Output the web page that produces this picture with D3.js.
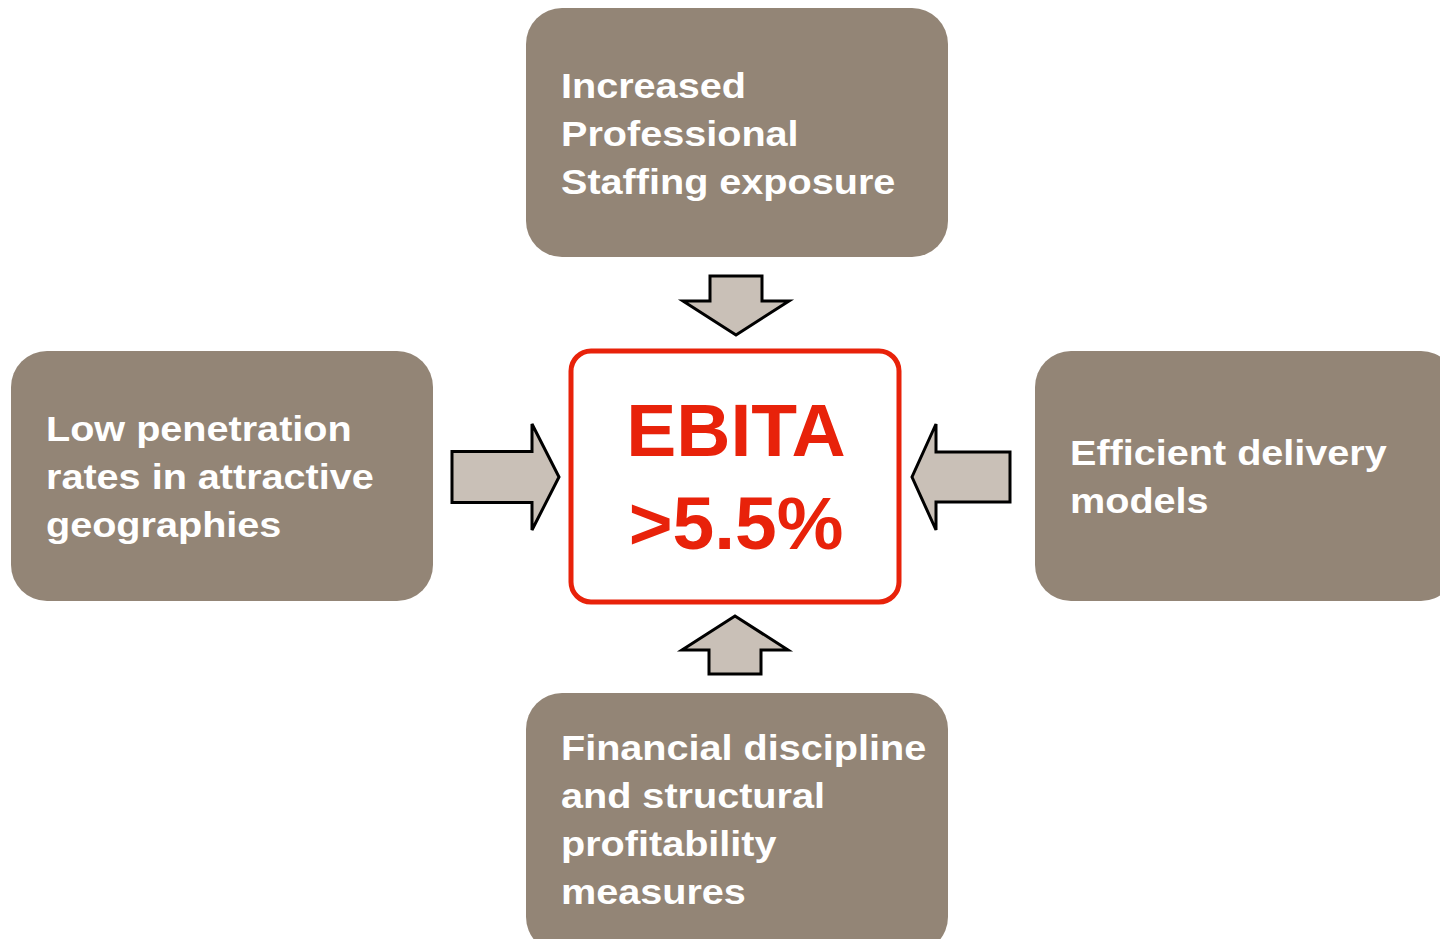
<!DOCTYPE html>
<html>
<head>
<meta charset="utf-8">
<script src="https://cdn.jsdelivr.net/npm/d3@7"></script>
<style>
  body { margin: 0; background: #fff; }
  svg { display: block; }
  text { font-family: "Liberation Sans", Arial, sans-serif; font-weight: bold; }
</style>
</head>
<body>
<div id="chart"></div>
<script>
// text content
var driverNames = ['top', 'left', 'right', 'bottom'];
var driverLines = [
  ['Increased', 'Professional', 'Staffing exposure'],
  ['Low penetration', 'rates in attractive', 'geographies'],
  ['Efficient delivery', 'models'],
  ['Financial discipline', 'and structural', 'profitability', 'measures']
];
var targetLines = ['EBITA', '>5.5%'];

var W = 1440, H = 939;
var BOX_FILL = '#938576', ARROW_FILL = '#c9c0b7', RED = '#e8220a';

// layout of each driver box: x, y, width, height, text start x, first baseline
var boxLayout = {
  top:    {x: 526,  y: 8,   w: 422, h: 249, tx: 561,  ty: 98},
  left:   {x: 11,   y: 351, w: 422, h: 250, tx: 46,   ty: 441},
  right:  {x: 1035, y: 351, w: 422, h: 250, tx: 1070, ty: 465},
  bottom: {x: 526,  y: 693, w: 422, h: 260, tx: 561,  ty: 760}
};
var LINE_H = 48;
var TEXT_STRETCH = 1.1; // the source text is drawn a little wide

// arrow outlines, drawn pointing down then rotated around the centre
function arrowPath(len, shaftW, headW, headL) {
  var s = shaftW / 2, h = headW / 2, b = len - headL;
  return 'M' + (-s) + ',0L' + s + ',0L' + s + ',' + b + 'L' + h + ',' + b +
         'L0,' + len + 'L' + (-h) + ',' + b + 'L' + (-s) + ',' + b + 'Z';
}
var arrows = [
  {cx: 736, cy: 276, angle: 0,   len: 59,  shaft: 52, head: 106, headL: 34},
  {cx: 452, cy: 477, angle: -90, len: 107, shaft: 51, head: 106, headL: 27},
  {cx: 1010, cy: 477, angle: 90, len: 98,  shaft: 50, head: 106, headL: 24},
  {cx: 735, cy: 674, angle: 180, len: 58,  shaft: 52, head: 106, headL: 34}
];

var svg = d3.select('#chart').append('svg')
    .attr('width', W)
    .attr('height', H);

// driver boxes
var box = svg.selectAll('g.driver')
    .data(driverNames)
  .enter().append('g')
    .attr('class', 'driver');

box.append('rect')
    .attr('x', function(d) { return boxLayout[d].x; })
    .attr('y', function(d) { return boxLayout[d].y; })
    .attr('width', function(d) { return boxLayout[d].w; })
    .attr('height', function(d) { return boxLayout[d].h; })
    .attr('rx', 36)
    .attr('fill', BOX_FILL);

box.append('text')
    .attr('fill', '#fff')
    .attr('font-size', 36)
    .attr('transform', function(d) {
      return 'translate(' + boxLayout[d].tx + ',0) scale(' + TEXT_STRETCH + ',1)';
    })
    .selectAll('tspan')
    .data(function(d, i) {
      return driverLines[i].map(function(t) { return {t: t, key: d}; });
    })
  .enter().append('tspan')
    .attr('x', 0)
    .attr('y', function(d, j) { return boxLayout[d.key].ty + j * LINE_H; })
    .text(function(d) { return d.t; });

// arrows
svg.selectAll('path.arrow')
    .data(arrows)
  .enter().append('path')
    .attr('class', 'arrow')
    .attr('d', function(d) { return arrowPath(d.len, d.shaft, d.head, d.headL); })
    .attr('transform', function(d) { return 'translate(' + d.cx + ',' + d.cy + ') rotate(' + d.angle + ')'; })
    .attr('fill', ARROW_FILL)
    .attr('stroke', '#000')
    .attr('stroke-width', 3)
    .attr('stroke-linejoin', 'miter');

// target box
svg.append('rect')
    .attr('x', 571)
    .attr('y', 351)
    .attr('width', 328)
    .attr('height', 251)
    .attr('rx', 20)
    .attr('fill', '#fff')
    .attr('stroke', RED)
    .attr('stroke-width', 5);

svg.append('g').selectAll('text')
    .data(targetLines)
  .enter().append('text')
    .attr('x', 736)
    .attr('y', function(d, i) { return 456 + i * 93; })
    .attr('text-anchor', 'middle')
    .attr('font-size', 75)
    .attr('fill', RED)
    .text(function(d) { return d; });
</script>
</body>
</html>
